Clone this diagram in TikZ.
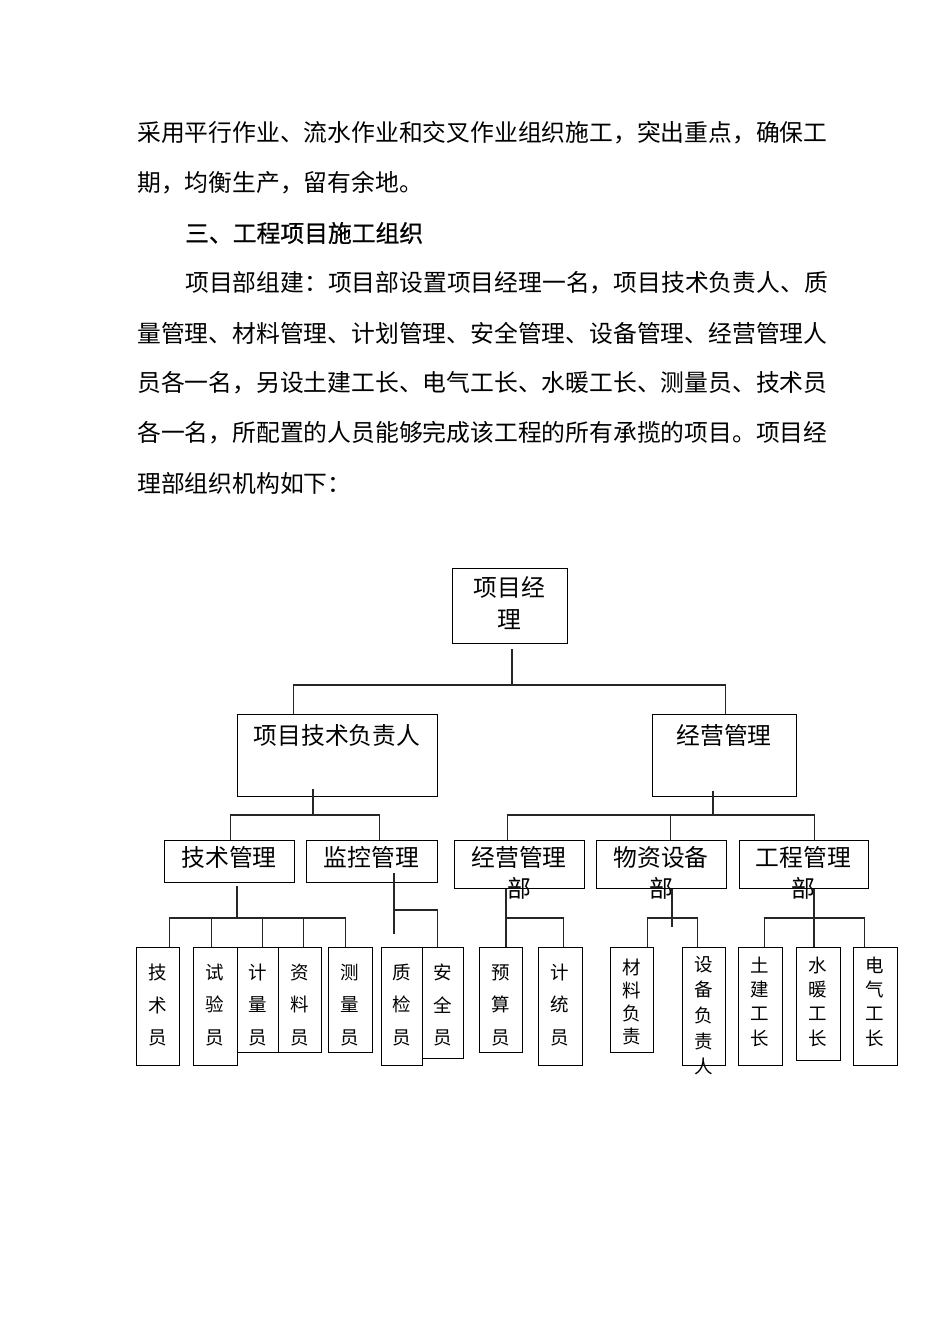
\documentclass[tikz,border=0pt]{standalone}
\usepackage{fontspec}
\newfontfamily\cjk{Noto Sans CJK SC}
\newfontfamily\cjkhead[FakeBold=0.8]{Noto Sans CJK SC}
\usepackage{tikz}
\usetikzlibrary{positioning}

\begin{document}
\begin{tikzpicture}[x=1pt,y=-1pt,font=\cjk,
	box/.style={draw, line width=1.3pt, inner sep=0pt, anchor=north west},
	conn/.style={line width=1.3pt, black!85},
	txt/.style={inner sep=0pt, align=center, font=\cjk\fontsize{23.8}{32}\selectfont},
	stxt/.style={inner sep=0pt, align=center, font=\cjk\fontsize{18.5}{32.5}\selectfont},
	para/.style={inner sep=0pt, anchor=west, font=\cjk\fontsize{23.8}{23.8}\selectfont}]
	\useasboundingbox (0,0) rectangle (950,1344);
	% text above the chart
	\node[para] (p1) at (137,133){采用平行作业、流水作业和交叉作业组织施工，突出重点，确保工};
	\node[para] (p2) at (137,183){期，均衡生产，留有余地。};
	\node[para, font=\cjkhead\fontsize{23.8}{23.8}\selectfont] (p3) at (185,233){三、工程项目施工组织};
	\node[para] (p4) at (185,283){项目部组建：项目部设置项目经理一名，项目技术负责人、质};
	\node[para] (p5) at (137,333){量管理、材料管理、计划管理、安全管理、设备管理、经营管理人};
	\node[para] (p6) at (137,383){员各一名，另设土建工长、电气工长、水暖工长、测量员、技术员};
	\node[para] (p7) at (137,433){各一名，所配置的人员能够完成该工程的所有承揽的项目。项目经};
	\node[para] (p8) at (137,483){理部组织机构如下：};
	% level 0
	\node[box, minimum width=115, minimum height=75] (xmjl) at (452,568){};
	\node[txt] (xmjl-t) at (509.5,603){项目经\\理};
	% level 1
	\node[box, minimum width=200, minimum height=82] (jsfz) at (237,714){};
	\node[txt] (jsfz-t) at (337,735){项目技术负责人};
	\node[box, minimum width=144, minimum height=82] (jygl) at (652,714){};
	\node[txt] (jygl-t) at (724,735){经营管理};
	% level 2
	\node[box, minimum width=130, minimum height=42] (jsgl) at (164,840){};
	\node[txt] (jsgl-t) at (229,857){技术管理};
	\node[box, minimum width=131, minimum height=42] (jkgl) at (306,840){};
	\node[txt] (jkgl-t) at (371.5,857){监控管理};
	\node[box, minimum width=130, minimum height=48] (jybu) at (454,840){};
	\node[txt, font=\cjk\fontsize{23.8}{31}\selectfont] (jybu-t) at (519,872.5){经营管理\\部};
	\node[box, minimum width=130, minimum height=48] (wzsb) at (596,840){};
	\node[txt, font=\cjk\fontsize{23.8}{31}\selectfont] (wzsb-t) at (661,872.5){物资设备\\部};
	\node[box, minimum width=129, minimum height=48] (gcgl) at (739,840){};
	\node[txt, font=\cjk\fontsize{23.8}{31}\selectfont] (gcgl-t) at (803.5,872.5){工程管理\\部};
	% level 3
	\node[box, minimum width=43, minimum height=118] (jsy) at (136,947){};
	\node[stxt] (jsy-t) at (157.5,1005){技\\术\\员};
	\node[box, minimum width=44, minimum height=118] (syy) at (193,947){};
	\node[stxt] (syy-t) at (215,1005){试\\验\\员};
	\node[box, minimum width=41, minimum height=105] (jly) at (237,947){};
	\node[stxt] (jly-t) at (257.5,1005){计\\量\\员};
	\node[box, minimum width=43, minimum height=105] (zly) at (278,947){};
	\node[stxt] (zly-t) at (299.5,1005){资\\料\\员};
	\node[box, minimum width=44, minimum height=105] (cly) at (328,947){};
	\node[stxt] (cly-t) at (350,1005){测\\量\\员};
	\node[box, minimum width=41, minimum height=118] (zjy) at (381,947){};
	\node[stxt] (zjy-t) at (401.5,1005){质\\检\\员};
	\node[box, minimum width=41, minimum height=111] (aqy) at (422,947){};
	\node[stxt] (aqy-t) at (442.5,1005){安\\全\\员};
	\node[box, minimum width=43, minimum height=105] (ysy) at (479,947){};
	\node[stxt] (ysy-t) at (500.5,1005){预\\算\\员};
	\node[box, minimum width=44, minimum height=118] (tjy) at (538,947){};
	\node[stxt] (tjy-t) at (560,1005){计\\统\\员};
	\node[box, minimum width=43, minimum height=105] (clfz) at (610,947){};
	\node[stxt, font=\cjk\fontsize{18.5}{23.3}\selectfont] (clfz-t) at (631.5,1002){材\\料\\负\\责};
	\node[box, minimum width=43, minimum height=118] (sbfz) at (682,947){};
	\node[stxt, font=\cjk\fontsize{18.5}{25.7}\selectfont] (sbfz-t) at (703.5,1015.5){设\\备\\负\\责\\人};
	\node[box, minimum width=44, minimum height=118] (tjgz) at (738,947){};
	\node[stxt, font=\cjk\fontsize{18.5}{24.3}\selectfont] (tjgz-t) at (760,1001.5){土\\建\\工\\长};
	\node[box, minimum width=44, minimum height=113] (nngz) at (796,947){};
	\node[stxt, font=\cjk\fontsize{18.5}{24.3}\selectfont] (nngz-t) at (818,1001.5){水\\暖\\工\\长};
	\node[box, minimum width=44, minimum height=118] (dqgz) at (853,947){};
	\node[stxt, font=\cjk\fontsize{18.5}{24.3}\selectfont] (dqgz-t) at (875,1001.5){电\\气\\工\\长};
	% connectors, level 0-1
	\coordinate (b0) at (512,685);
	\draw[conn, line width=2pt] (xmjl.south -| b0) ++(0,5) -- (b0);
	\draw[conn] ([xshift=-44]jsfz.north) |- (b0) -| ([xshift=1]jygl.north);
	% level 1-2
	\coordinate (b1) at (313,815);
	\draw[conn, line width=2pt] (jsfz.south -| b1) ++(0,-8) -- (b1);
	\draw[conn] ([xshift=1]jsgl.north) |- (b1) -| ([xshift=7.5]jkgl.north);
	\coordinate (b2) at (713,815);
	\draw[conn, line width=2pt] (jygl.south -| b2) ++(0,-6) -- (b2);
	\draw[conn] ([xshift=-12]jybu.north) |- (b2) -| ([xshift=10.5]gcgl.north);
	\draw[conn] ([xshift=9]wzsb.north) -- ++(0,-25);
	% level 2-3
	\coordinate (b3) at (237,918);
	\draw[conn] (jsgl.south -| b3) ++(0,3) -- (b3);
	\draw[conn] ([xshift=11.5]jsy.north) |- (b3) -| ([xshift=-5]cly.north);
	\foreach \n/\dx in {syy/-4,jly/4.5,zly/3.5}
		\draw[conn] ([xshift=\dx]\n.north) -- ++(0,-29);
	\coordinate (b4) at (394,910);
	\draw[conn] (jkgl.south -| b4) ++(0,-10) -- ++(0,61);
	\draw[conn] (b4) -| ([xshift=-5.5]aqy.north);
	\coordinate (b5) at (506,918);
	\draw[conn] (jybu.south -| b5) -- (ysy.north -| b5);
	\draw[conn] (b5) -| ([xshift=3]tjy.north);
	\coordinate (b6) at (672,918);
	\draw[conn] (wzsb.south -| b6) -- ++(0,38);
	\draw[conn] ([xshift=15.5]clfz.north) |- (b6) -| ([xshift=-6.5]sbfz.north);
	\coordinate (b7) at (814,918);
	\draw[conn] (gcgl.south -| b7) -- (nngz.north -| b7);
	\draw[conn] ([xshift=4]tjgz.north) |- (b7) -| ([xshift=-11]dqgz.north);
\end{tikzpicture}
\end{document}
